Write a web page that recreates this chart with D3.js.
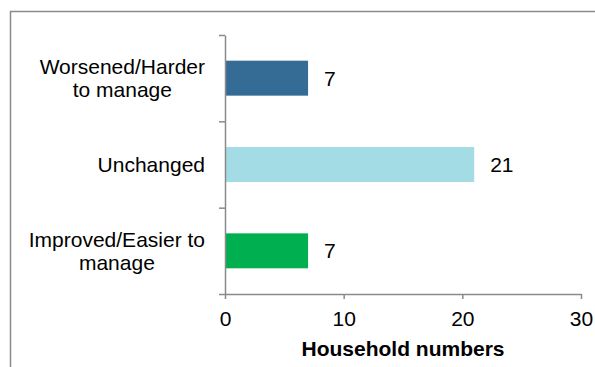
<!DOCTYPE html>
<html>
<head>
<meta charset="utf-8">
<script src="https://cdn.jsdelivr.net/npm/d3@7"></script>
<style>
  body { margin: 0; background: #fff; }
  text { font-family: Arial, "Liberation Sans", sans-serif; fill: #000; }
</style>
</head>
<body>
<div id="chart"></div>
<script>
// data
const categories = ['Worsened/Harder to manage', 'Unchanged', 'Improved/Easier to manage'];
const labelLines = [['Worsened/Harder', 'to manage'], ['Unchanged'], ['Improved/Easier to', 'manage']];
const values = [7, 21, 7];
const colors = ['#346C96', '#A3DCE4', '#00B050'];
const xTicks = [0, 10, 20, 30];
const xTitle = 'Household numbers';

const width = 595, height = 367;
const plotLeft = 225, plotRight = 581, plotTop = 35, plotBottom = 294;
const fontSize = 21;

let svg = d3.select('#chart').append('svg').attr('width', width).attr('height', height);

// outer frame (right and bottom edges fall outside the picture)
svg.append('path')
    .attr('d', 'M10.5,' + height + 'V11.5H' + width)
    .attr('fill', 'none').attr('stroke', '#8a8a8a').attr('stroke-width', 1.5);

let x = d3.scaleLinear().domain([0, 30]).range([plotLeft, plotRight]);
let y = d3.scaleBand().domain(categories).range([plotTop, plotBottom]).paddingInner(0.595).paddingOuter(0.2975);
let yEdges = d3.scaleLinear().domain([0, categories.length]).range([plotTop, plotBottom]);

// bars
svg.selectAll('rect.bar')
    .data(values)
    .enter()
    .append('rect')
    .attr('class', 'bar')
    .attr('x', x(0))
    .attr('y', (d, i) => y(categories[i]))
    .attr('width', d => x(d) - x(0))
    .attr('height', y.bandwidth())
    .attr('fill', (d, i) => colors[i]);

// value labels
svg.selectAll('text.val')
    .data(values)
    .enter()
    .append('text')
    .attr('class', 'val')
    .attr('x', d => x(d) + 16)
    .attr('y', (d, i) => y(categories[i]) + y.bandwidth() / 2 + 7.5)
    .attr('font-size', fontSize)
    .text(d => d);

// x axis
let xAxis = svg.append('g')
    .attr('transform', 'translate(0,' + plotBottom + ')')
    .call(d3.axisBottom(x).tickValues(xTicks).tickSize(5).tickSizeOuter(0));
xAxis.select('.domain').attr('stroke', '#8a8a8a').attr('stroke-width', 1.5);
xAxis.selectAll('.tick line').attr('stroke', '#8a8a8a').attr('stroke-width', 1.5);
xAxis.selectAll('.tick text')
    .attr('font-size', fontSize).attr('font-family', 'Arial, "Liberation Sans", sans-serif')
    .attr('fill', '#000').attr('dy', null).attr('y', 32);

// y axis: tick marks on band edges, no labels
let yAxis = svg.append('g')
    .attr('transform', 'translate(' + plotLeft + ',0)')
    .call(d3.axisLeft(yEdges).ticks(categories.length).tickSize(6).tickSizeOuter(0).tickFormat(''));
yAxis.select('.domain').attr('stroke', '#8a8a8a').attr('stroke-width', 1.5);
yAxis.selectAll('.tick line').attr('stroke', '#8a8a8a').attr('stroke-width', 1.5);

// category labels: block right aligned, lines centred in the block
categories.forEach(function(c, i) {
    let lines = labelLines[i];
    let cy = y(c) + y.bandwidth() / 2 + 7.5;
    let g = svg.append('g');
    let texts = lines.map(function(l, j) {
        return g.append('text')
            .attr('font-size', fontSize)
            .attr('text-anchor', 'middle')
            .attr('y', cy + (j - (lines.length - 1) / 2) * 23)
            .text(l);
    });
    let w = d3.max(texts, t => t.node().getComputedTextLength());
    texts.forEach(t => t.attr('x', plotLeft - 20 - w / 2));
});

// axis title
svg.append('text')
    .attr('x', (plotLeft + plotRight) / 2)
    .attr('y', 356)
    .attr('text-anchor', 'middle')
    .attr('font-size', fontSize)
    .attr('font-weight', 'bold')
    .text(xTitle);
</script>
</body>
</html>
